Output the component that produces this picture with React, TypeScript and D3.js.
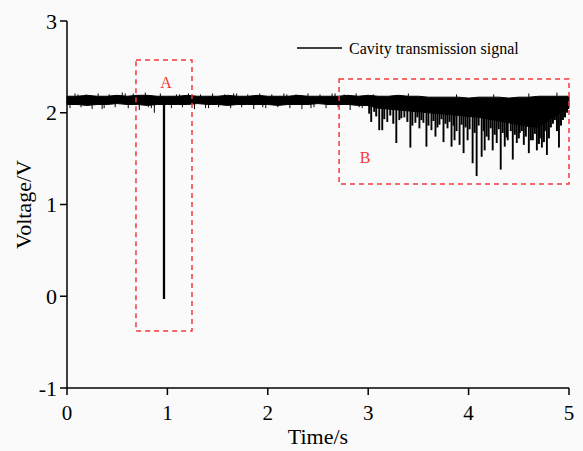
import React from "react";
import * as d3 from "d3";

// ---- data ----
const xTicks = [0, 1, 2, 3, 4, 5];
const yTicks = [-1, 0, 1, 2, 3];

const envTimes = [
  0, 0.1, 0.2, 0.3, 0.4, 0.5, 0.6, 0.7, 0.8, 0.9,
  1.0, 1.1, 1.2, 1.3, 1.4, 1.5, 1.6, 1.7, 1.8, 1.9,
  2.0, 2.1, 2.2, 2.3, 2.4, 2.5, 2.6, 2.7, 2.8, 2.9,
  3.0, 3.1, 3.2, 3.3, 3.4, 3.5, 3.6, 3.7, 3.8, 3.9,
  4.0, 4.1, 4.2, 4.3, 4.4, 4.5, 4.6, 4.7, 4.8, 4.9, 5.0,
];
const upperEnv = [
  2.18, 2.18, 2.19, 2.18, 2.18, 2.19, 2.18, 2.19, 2.19, 2.18,
  2.18, 2.18, 2.19, 2.18, 2.18, 2.18, 2.19, 2.18, 2.18, 2.19,
  2.18, 2.18, 2.18, 2.19, 2.18, 2.18, 2.18, 2.18, 2.19, 2.18,
  2.19, 2.18, 2.18, 2.19, 2.18, 2.18, 2.17, 2.17, 2.17, 2.17,
  2.16, 2.17, 2.17, 2.17, 2.16, 2.17, 2.17, 2.18, 2.18, 2.18, 2.18,
];
const lowerEnv = [
  2.09, 2.09, 2.08, 2.09, 2.09, 2.10, 2.09, 2.09, 2.08, 2.09,
  2.09, 2.09, 2.09, 2.10, 2.09, 2.09, 2.08, 2.09, 2.09, 2.09,
  2.09, 2.08, 2.09, 2.09, 2.09, 2.10, 2.09, 2.09, 2.09, 2.08,
  2.08, 2.05, 2.04, 2.03, 2.02, 2.01, 2.00, 1.99, 1.98, 1.97,
  1.96, 1.95, 1.93, 1.91, 1.89, 1.87, 1.85, 1.84, 1.92, 1.99, 2.05,
];

// small glitches around the baseline (time, voltage)
const glitchTimes = [
  0.03, 0.08, 0.14, 0.19, 0.25, 0.31, 0.37, 0.42, 0.48, 0.55,
  0.61, 0.66, 0.72, 0.78, 0.84, 0.87, 0.93, 1.04, 1.09, 1.15,
  1.21, 1.27, 1.33, 1.38, 1.45, 1.51, 1.57, 1.63, 1.69, 1.74,
  1.80, 1.86, 1.92, 1.98, 2.04, 2.10, 2.16, 2.22, 2.28, 2.34,
  2.40, 2.46, 2.52, 2.58, 2.64, 2.70, 2.76, 2.82, 2.88, 2.94,
  0.11, 0.35, 0.58, 0.81, 1.12, 1.41, 1.66, 1.95, 2.19, 2.43,
  2.67, 2.91, 3.05, 3.40, 3.88, 4.25, 4.60, 4.88,
];
const glitchValues = [
  2.05, 2.21, 2.06, 2.20, 2.04, 2.21, 2.05, 2.20, 2.06, 2.22,
  2.05, 2.21, 2.03, 2.22, 2.05, 2.00, 2.21, 2.05, 2.20, 2.06,
  2.21, 2.04, 2.20, 2.05, 2.21, 2.06, 2.20, 2.05, 2.21, 2.06,
  2.20, 2.04, 2.21, 2.05, 2.20, 2.06, 2.21, 2.05, 2.20, 2.04,
  2.21, 2.06, 2.20, 2.05, 2.21, 2.06, 2.20, 2.03, 2.21, 2.05,
  2.20, 2.04, 2.21, 2.06, 2.20, 2.05, 2.21, 2.06, 2.20, 2.05,
  2.21, 2.06, 2.20, 2.21, 2.20, 2.20, 2.21, 2.22,
];

// deep dips in region B (time, minimum voltage)
const dipTimes = [
  3.03, 3.11, 3.14, 3.19, 3.28, 3.31, 3.36, 3.42, 3.47, 3.51,
  3.55, 3.58, 3.63, 3.67, 3.71, 3.75, 3.79, 3.83, 3.86, 3.91,
  3.95, 3.99, 4.04, 4.08, 4.13, 4.16, 4.20, 4.24, 4.28, 4.32,
  4.36, 4.39, 4.44, 4.48, 4.51, 4.55, 4.60, 4.64, 4.68, 4.73,
  4.78, 4.82, 4.86, 4.90, 4.94, 4.98,
];
const dipValues = [
  1.90, 1.81, 1.81, 1.90, 1.67, 1.92, 1.95, 1.62, 1.89, 1.83,
  1.89, 1.63, 1.81, 1.74, 1.87, 1.68, 1.83, 1.63, 1.70, 1.65,
  1.56, 1.70, 1.45, 1.31, 1.52, 1.59, 1.70, 1.59, 1.67, 1.38,
  1.63, 1.70, 1.49, 1.67, 1.78, 1.65, 1.56, 1.70, 1.59, 1.62,
  1.54, 1.84, 1.92, 1.62, 1.92, 2.00,
];

// medium dips filling region B (time, minimum voltage)
const midDipTimes = [
  3.01, 3.06, 3.08, 3.16, 3.22, 3.25, 3.33, 3.39, 3.44, 3.49,
  3.53, 3.60, 3.65, 3.69, 3.73, 3.77, 3.81, 3.85, 3.88, 3.93,
  3.97, 4.01, 4.06, 4.10, 4.15, 4.18, 4.22, 4.26, 4.30, 4.34,
  4.38, 4.42, 4.46, 4.50, 4.53, 4.57, 4.62, 4.66, 4.70, 4.71,
  4.75, 4.76, 4.80, 4.84, 4.88, 4.92, 4.96,
];
const midDipValues = [
  1.99, 2.01, 1.96, 1.93, 1.97, 1.88, 1.94, 1.90, 1.86, 1.95,
  1.92, 1.86, 1.91, 1.84, 1.93, 1.88, 1.90, 1.86, 1.80, 1.87,
  1.84, 1.82, 1.78, 1.86, 1.80, 1.74, 1.83, 1.76, 1.82, 1.78,
  1.73, 1.80, 1.76, 1.72, 1.80, 1.74, 1.70, 1.77, 1.66, 1.72,
  1.68, 1.80, 1.72, 1.88, 1.80, 1.86, 1.95,
];

const baselineLevel = 2.135;
const mainDipTime = 0.966;
const mainDipMin = -0.03;

const boxA = { t0: 0.687, t1: 1.245, v0: -0.38, v1: 2.575 };
const boxB = { t0: 2.71, t1: 5.0, v0: 1.223, v1: 2.368 };

const legendLabel = "Cavity transmission signal";

// ---- layout ----
const W = 583;
const H = 451;
const left = 67;
const right = 569;
const top = 21;
const bottom = 388;
const FONT = "Liberation Serif, DejaVu Serif, serif";
const RED = "#f23a3a";

export default function App() {
  const x = d3.scaleLinear().domain([0, 5]).range([left, right]);
  const y = d3.scaleLinear().domain([-1, 3]).range([bottom, top]);

  const band = d3
    .area<number>()
    .x((_, i) => x(envTimes[i]))
    .y0((_, i) => y(lowerEnv[i]))
    .y1((_, i) => y(upperEnv[i]))(envTimes);

  return (
    <svg
      width={W}
      height={H}
      style={{ position: "absolute", left: 0, top: 0, background: "#fafafa", fontFamily: FONT }}
    >
      <rect x={0} y={0} width={W} height={H} fill="#fafafa" />

      {/* signal band */}
      <path d={band || ""} fill="#000" stroke="#000" strokeWidth={1} />
      {glitchTimes.map((t, i) => (
        <line
          key={"g" + i}
          x1={x(t)}
          x2={x(t)}
          y1={y(baselineLevel)}
          y2={y(glitchValues[i])}
          stroke="#000"
          strokeWidth={1}
        />
      ))}
      {midDipTimes.map((t, i) => (
        <line
          key={"m" + i}
          x1={x(t)}
          x2={x(t)}
          y1={y(baselineLevel)}
          y2={y(midDipValues[i])}
          stroke="#000"
          strokeWidth={2}
        />
      ))}
      {dipTimes.map((t, i) => (
        <line
          key={"d" + i}
          x1={x(t)}
          x2={x(t)}
          y1={y(baselineLevel)}
          y2={y(dipValues[i])}
          stroke="#000"
          strokeWidth={1.9}
        />
      ))}
      <line
        x1={x(mainDipTime)}
        x2={x(mainDipTime)}
        y1={y(baselineLevel)}
        y2={y(mainDipMin)}
        stroke="#000"
        strokeWidth={2.3}
      />

      {/* dashed boxes */}
      {[boxA, boxB].map((b, i) => (
        <rect
          key={"b" + i}
          x={x(b.t0)}
          y={y(b.v1)}
          width={x(b.t1) - x(b.t0)}
          height={y(b.v0) - y(b.v1)}
          fill="none"
          stroke={RED}
          strokeWidth={1.5}
          strokeDasharray="5,4"
        />
      ))}
      <text x={166} y={88} fill={RED} fontSize={16} textAnchor="middle">
        A
      </text>
      <text x={365} y={163} fill={RED} fontSize={16} textAnchor="middle">
        B
      </text>

      {/* legend */}
      <line x1={297} x2={342} y1={48} y2={48} stroke="#000" strokeWidth={1.5} />
      <text x={349} y={54} fontSize={16} fill="#000">
        {legendLabel}
      </text>

      {/* axes */}
      <line x1={left} x2={left} y1={top} y2={bottom} stroke="#000" strokeWidth={1.5} />
      <line x1={left} x2={right} y1={bottom} y2={bottom} stroke="#000" strokeWidth={1.5} />
      {yTicks.map((v) => (
        <g key={"y" + v}>
          <line x1={left - 7} x2={left} y1={y(v)} y2={y(v)} stroke="#000" strokeWidth={1.5} />
          <text x={57} y={y(v)} dy="0.35em" fontSize={22} textAnchor="end" fill="#000">
            {v}
          </text>
        </g>
      ))}
      {xTicks.map((v) => (
        <g key={"x" + v}>
          <line x1={x(v)} x2={x(v)} y1={bottom} y2={bottom + 7} stroke="#000" strokeWidth={1.5} />
          <text x={x(v)} y={420} fontSize={21} textAnchor="middle" fill="#000">
            {v}
          </text>
        </g>
      ))}
      <text x={(left + right) / 2} y={444} fontSize={22} textAnchor="middle" fill="#000">
        Time/s
      </text>
      <text
        transform={`translate(31, ${(top + bottom) / 2}) rotate(-90)`}
        fontSize={22}
        textAnchor="middle"
        fill="#000"
      >
        Voltage/V
      </text>
    </svg>
  );
}
